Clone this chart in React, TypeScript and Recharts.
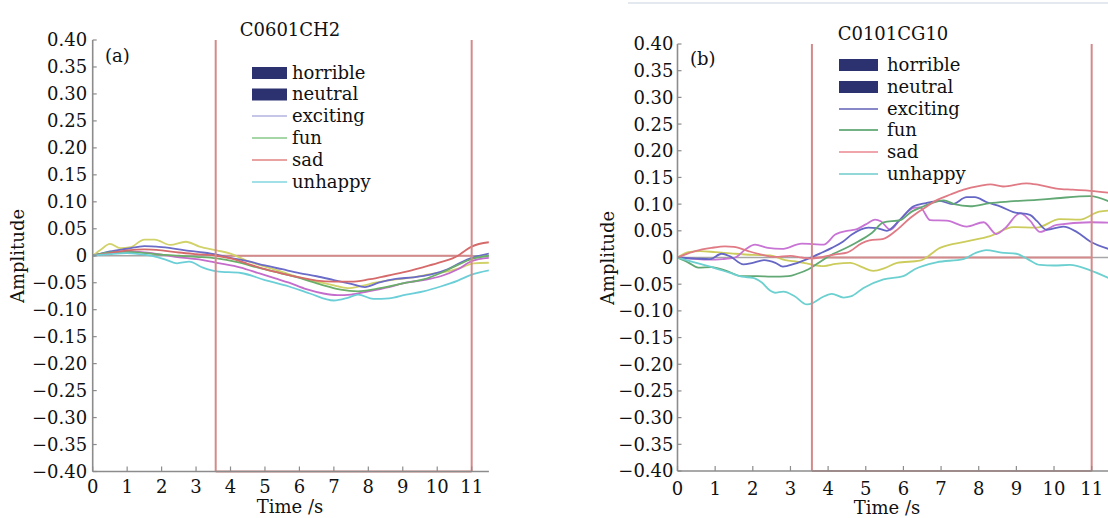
import React from 'react';
import { LineChart, Line, XAxis, YAxis, ReferenceLine } from 'recharts';

type Pt = [number, number];

// ---------- shared axis data ----------
const xTicks = [0, 1, 2, 3, 4, 5, 6, 7, 8, 9, 10, 11];
const yTicks = [0.4, 0.35, 0.3, 0.25, 0.2, 0.15, 0.1, 0.05, 0, -0.05, -0.1, -0.15, -0.2, -0.25, -0.3, -0.35, -0.4];
const markerTimes = [3.57, 11];
const legendNames = ['horrible', 'neutral', 'exciting', 'fun', 'sad', 'unhappy'];
const titles = ['C0601CH2', 'C0101CG10'];
const panelTags = ['(a)', '(b)'];

// ---------- panel (a) : C0601CH2 ----------
const horribleA: Pt[] = [[0, 0], [0.25, 0.012], [0.5, 0.022], [0.8, 0.014], [1.1, 0.016], [1.5, 0.03], [1.8, 0.03], [2.25, 0.02], [2.7, 0.026], [3.1, 0.017], [3.6, 0.01], [4.0, 0.004], [4.5, -0.01], [5, -0.02], [5.5, -0.03], [6, -0.04], [6.5, -0.048], [7, -0.055], [7.4, -0.06], [7.8, -0.056], [8.2, -0.05], [8.8, -0.044], [9.3, -0.04], [9.8, -0.034], [10.3, -0.029], [10.7, -0.022], [11.05, -0.014], [11.5, -0.013]];
const neutralA: Pt[] = [[0, 0], [0.5, 0.006], [1, 0.008], [1.5, 0.006], [2, 0.002], [2.4, -0.002], [2.8, -0.005], [3.2, -0.008], [3.6, -0.013], [4.3, -0.022], [4.8, -0.032], [5.3, -0.042], [5.7, -0.05], [6.2, -0.062], [6.7, -0.07], [7.1, -0.073], [7.5, -0.072], [8.0, -0.066], [8.6, -0.058], [9.1, -0.05], [9.6, -0.045], [10.1, -0.038], [10.6, -0.025], [11, -0.01], [11.5, -0.004]];
const excitingA: Pt[] = [[0, 0], [0.5, 0.008], [1, 0.013], [1.5, 0.018], [2, 0.016], [2.5, 0.012], [2.8, 0.009], [3.2, 0.006], [3.6, 0.002], [4, -0.004], [4.5, -0.01], [5, -0.018], [5.5, -0.025], [6, -0.032], [6.5, -0.038], [7, -0.045], [7.5, -0.052], [7.9, -0.058], [8.3, -0.05], [8.8, -0.043], [9.3, -0.04], [9.8, -0.035], [10.3, -0.025], [10.7, -0.012], [11, -0.004], [11.5, 0.004]];
const funA: Pt[] = [[0, 0], [0.5, 0.006], [0.9, 0.007], [1.5, 0.005], [2, 0.002], [2.5, 0.0], [3, -0.002], [3.6, -0.005], [4.2, -0.012], [4.8, -0.022], [5.3, -0.03], [5.7, -0.036], [6.2, -0.045], [6.7, -0.055], [7.2, -0.063], [7.7, -0.066], [8.2, -0.062], [8.6, -0.057], [9.1, -0.05], [9.6, -0.044], [10.1, -0.032], [10.6, -0.017], [11, -0.006], [11.5, 0.0]];
const sadA: Pt[] = [[0, 0], [0.5, 0.005], [1, 0.01], [1.5, 0.012], [2, 0.01], [2.5, 0.006], [3, 0.003], [3.6, 0], [4, -0.005], [4.5, -0.015], [5, -0.025], [5.5, -0.033], [6, -0.04], [6.5, -0.046], [7, -0.048], [7.5, -0.048], [8, -0.044], [8.4, -0.039], [9, -0.031], [9.6, -0.021], [10.1, -0.012], [10.6, 0.0], [10.8, 0.009], [11, 0.017], [11.5, 0.025]];
const unhappyA: Pt[] = [[0, 0], [0.5, 0.003], [1, 0.005], [1.5, 0.002], [1.9, -0.003], [2.15, -0.008], [2.45, -0.014], [2.8, -0.011], [3.2, -0.022], [3.6, -0.029], [4.3, -0.032], [5, -0.045], [5.7, -0.057], [6.3, -0.07], [7, -0.083], [7.4, -0.078], [7.7, -0.072], [8.15, -0.08], [8.6, -0.079], [9.1, -0.072], [9.6, -0.066], [10.1, -0.057], [10.6, -0.046], [11, -0.035], [11.5, -0.027]];

// ---------- panel (b) : C0101CG10 ----------
const horribleB: Pt[] = [[0, 0], [0.29, 0.01], [0.6, 0.012], [1.0, 0.01], [1.53, 0.007], [2.0, 0.005], [2.46, 0.004], [2.86, -0.005], [3.2, -0.008], [3.48, -0.012], [3.88, -0.016], [4.2, -0.012], [4.59, -0.01], [4.9, -0.018], [5.2, -0.025], [5.5, -0.02], [5.83, -0.01], [6.44, -0.006], [6.97, 0.018], [7.68, 0.03], [8.3, 0.04], [8.92, 0.057], [9.54, 0.056], [10.15, 0.072], [10.69, 0.071], [11.2, 0.086], [11.5, 0.088]];
const neutralB: Pt[] = [[0, 0], [0.4, -0.002], [0.82, -0.004], [1.2, -0.003], [1.53, 0], [1.8, 0.015], [2.06, 0.024], [2.4, 0.018], [2.77, 0.016], [3.3, 0.026], [3.6, 0.025], [3.88, 0.024], [4.19, 0.043], [4.5, 0.05], [4.72, 0.052], [5.0, 0.062], [5.25, 0.071], [5.4, 0.068], [5.65, 0.052], [5.9, 0.07], [6.27, 0.093], [6.44, 0.094], [6.71, 0.07], [7.15, 0.069], [7.68, 0.058], [8.13, 0.066], [8.47, 0.044], [8.7, 0.055], [9.1, 0.083], [9.35, 0.07], [9.63, 0.048], [10.07, 0.061], [10.97, 0.066], [11.5, 0.065]];
const excitingB: Pt[] = [[0, 0], [0.5, -0.002], [0.86, -0.003], [1.17, 0.007], [1.4, 0.002], [1.75, -0.013], [2.0, -0.01], [2.3, -0.005], [2.6, -0.01], [2.8, -0.017], [3.1, -0.012], [3.48, -0.002], [3.8, 0.008], [4.1, 0.018], [4.4, 0.03], [4.63, 0.043], [5.07, 0.056], [5.3, 0.055], [5.56, 0.05], [5.9, 0.07], [6.27, 0.096], [6.6, 0.102], [6.97, 0.106], [7.3, 0.1], [7.68, 0.113], [7.9, 0.113], [8.2, 0.104], [8.6, 0.095], [8.92, 0.085], [9.36, 0.08], [9.55, 0.068], [9.8, 0.052], [10.25, 0.058], [10.6, 0.048], [10.96, 0.03], [11.5, 0.015]];
const funB: Pt[] = [[0, 0], [0.3, -0.01], [0.55, -0.019], [0.9, -0.018], [1.3, -0.025], [1.71, -0.035], [2.1, -0.035], [2.5, -0.036], [2.95, -0.035], [3.2, -0.03], [3.48, -0.022], [3.75, -0.01], [4.01, 0.002], [4.54, 0.02], [4.8, 0.03], [5.16, 0.046], [5.47, 0.066], [5.92, 0.07], [6.2, 0.085], [6.54, 0.096], [7.07, 0.107], [7.35, 0.1], [7.77, 0.096], [8.3, 0.102], [8.83, 0.105], [9.54, 0.108], [10.07, 0.111], [10.96, 0.115], [11.5, 0.104]];
const sadB: Pt[] = [[0, 0], [0.47, 0.012], [0.9, 0.018], [1.26, 0.021], [1.5, 0.02], [1.88, 0.012], [2.2, 0.006], [2.59, 0.001], [3, 0.003], [3.3, 0.0], [3.57, -0.002], [4.19, 0.006], [4.5, 0.009], [4.9, 0.027], [5.1, 0.032], [5.47, 0.035], [5.8, 0.05], [6.18, 0.074], [6.5, 0.09], [6.9, 0.108], [7.25, 0.118], [7.6, 0.127], [8.03, 0.134], [8.31, 0.137], [8.65, 0.133], [9.27, 0.139], [9.6, 0.136], [10.07, 0.129], [10.5, 0.127], [10.97, 0.125], [11.5, 0.121]];
const unhappyB: Pt[] = [[0, 0], [0.4, -0.008], [0.82, -0.016], [1.4, -0.029], [1.71, -0.036], [2.0, -0.038], [2.24, -0.047], [2.46, -0.062], [2.59, -0.066], [2.81, -0.064], [3.1, -0.072], [3.44, -0.088], [3.6, -0.085], [3.83, -0.075], [4.1, -0.068], [4.41, -0.075], [4.6, -0.073], [4.94, -0.057], [5.47, -0.041], [6.0, -0.035], [6.3, -0.022], [6.88, -0.009], [7.59, -0.003], [7.9, 0.008], [8.2, 0.014], [8.6, 0.009], [9.0, 0.007], [9.3, -0.003], [9.63, -0.014], [10.0, -0.015], [10.42, -0.014], [10.96, -0.024], [11.5, -0.04]];

// ---------- styles ----------
const FONT = 'DejaVu Serif';
const AXIS = '#8c8c8c';
const RED = '#d48a8a';
const NAVY = '#2c3270';

const colorsA = { horrible: '#d2d26a', neutral: '#c46ccc', exciting: '#6b6bc8', fun: '#6aae6a', sad: '#d66a6a', unhappy: '#6ccfd8' };
const colorsB = { horrible: '#cccc5c', neutral: '#c874d4', exciting: '#6666c4', fun: '#62a874', sad: '#e07a84', unhappy: '#6cd0d0' };
const legendColorsA = { exciting: '#c6c6e8', fun: '#a6d6a6', sad: '#e8a2a2', unhappy: '#a2e0e8' };
const legendColorsB = { exciting: '#8888c8', fun: '#72b284', sad: '#f0a4ac', unhappy: '#92d8d8' };

const toRows = (pts: Pt[]) => pts.map(([t, v]) => ({ t, v }));

const seriesA = [
  { name: 'horrible', pts: horribleA },
  { name: 'neutral', pts: neutralA },
  { name: 'exciting', pts: excitingA },
  { name: 'fun', pts: funA },
  { name: 'sad', pts: sadA },
  { name: 'unhappy', pts: unhappyA },
];
const seriesB = [
  { name: 'horrible', pts: horribleB },
  { name: 'neutral', pts: neutralB },
  { name: 'exciting', pts: excitingB },
  { name: 'fun', pts: funB },
  { name: 'sad', pts: sadB },
  { name: 'unhappy', pts: unhappyB },
];

const fmtY = (v: number) => (Math.abs(v) < 1e-9 ? '0' : (v < 0 ? '\u2212' : '') + Math.abs(v).toFixed(2));

const YTick = (p: any) => {
  const { x, y, payload, gap } = p;
  return (
    <g>
      <line x1={x} x2={x + 4} y1={y} y2={y} stroke={AXIS} strokeWidth={1.2} />
      <text x={x - gap} y={y} dy="0.36em" textAnchor="end" fontFamily={FONT} fontSize={18} fill="#111">
        {fmtY(payload.value)}
      </text>
    </g>
  );
};

const XTick = (p: any) => {
  const { x, y, payload, base } = p;
  return (
    <g>
      <line x1={x} x2={x} y1={y} y2={y - 5} stroke={AXIS} strokeWidth={1.2} />
      <text x={x} y={y + base} textAnchor="middle" fontFamily={FONT} fontSize={18} fill="#111">
        {payload.value}
      </text>
    </g>
  );
};

type PanelProps = {
  left: number;
  width: number;
  plotTop: number;
  plotBottom: number;
  yAxisW: number;
  rightPad: number;
  series: { name: string; pts: Pt[] }[];
  colors: Record<string, string>;
  yGap: number;
  xBase: number;
};

const Panel = ({ left, width, plotTop, plotBottom, yAxisW, rightPad, series, colors, yGap, xBase }: PanelProps) => (
  <div style={{ position: 'absolute', left, top: 0 }}>
    <LineChart width={width} height={518} margin={{ top: plotTop, right: rightPad, bottom: 0, left: 0 }}>
      <XAxis
        type="number"
        dataKey="t"
        domain={[0, 11.5]}
        ticks={xTicks}
        interval={0}
        allowDataOverflow
        height={518 - plotBottom}
        tickSize={0}
        tickMargin={0}
        tickLine={false}
        axisLine={{ stroke: AXIS, strokeWidth: 1.6 }}
        tick={(p: any) => <XTick {...p} base={xBase} />}
      />
      <YAxis
        type="number"
        domain={[-0.4, 0.4]}
        ticks={yTicks}
        interval={0}
        allowDataOverflow
        width={yAxisW}
        tickSize={0}
        tickMargin={0}
        tickLine={false}
        axisLine={{ stroke: AXIS, strokeWidth: 1.6 }}
        tick={(p: any) => <YTick {...p} gap={yGap} />}
      />
      <ReferenceLine y={0} stroke="#a6a6a6" strokeWidth={1.6} />
      <ReferenceLine segment={[{ x: markerTimes[0], y: 0 }, { x: markerTimes[1], y: 0 }]} stroke={RED} strokeWidth={2} />
      <ReferenceLine segment={[{ x: markerTimes[0], y: -0.4 }, { x: markerTimes[1], y: -0.4 }]} stroke={RED} strokeWidth={2} />
      {series.map((s) => (
        <Line
          key={s.name}
          data={toRows(s.pts)}
          dataKey="v"
          name={s.name}
          type="monotone"
          stroke={colors[s.name]}
          strokeWidth={1.8}
          dot={false}
          activeDot={false}
          isAnimationActive={false}
        />
      ))}
      <ReferenceLine x={markerTimes[0]} stroke={RED} strokeWidth={2} />
      <ReferenceLine x={markerTimes[1]} stroke={RED} strokeWidth={2} />
    </LineChart>
  </div>
);

const Legend = ({ x, rows, swW, textX, lineColors }: { x: number; rows: number[]; swW: number; textX: number; lineColors: Record<string, string> }) => (
  <g>
    {legendNames.map((n, i) => {
      const cy = rows[i];
      const isBox = n === 'horrible' || n === 'neutral';
      return (
        <g key={n}>
          {isBox ? (
            <rect x={x} y={cy - 6} width={swW} height={12} fill={NAVY} />
          ) : (
            <line x1={x} x2={x + swW} y1={cy} y2={cy} stroke={lineColors[n]} strokeWidth={2} />
          )}
          <text x={textX} y={cy} dy="0.33em" fontFamily={FONT} fontSize={18} fill="#111">
            {n}
          </text>
        </g>
      );
    })}
  </g>
);

export default function App() {
  return (
    <div style={{ position: 'absolute', left: 0, top: 0, width: 1108, height: 518, overflow: 'hidden', background: '#fff' }}>
      <div style={{ position: 'absolute', left: 628, top: 2, width: 480, height: 2, background: '#e4e9ef' }} />
      <Panel
        left={0}
        width={500}
        plotTop={40}
        plotBottom={471.5}
        yAxisW={92.7}
        rightPad={500 - 488.9}
        series={seriesA}
        colors={colorsA}
        yGap={5.5}
        xBase={21}
      />
      <Panel
        left={600}
        width={520}
        plotTop={44}
        plotBottom={471}
        yAxisW={77.5}
        rightPad={520 - 510.5}
        series={seriesB}
        colors={colorsB}
        yGap={4}
        xBase={24}
      />
      <svg width={1108} height={518} style={{ position: 'absolute', left: 0, top: 0, pointerEvents: 'none' }}>
        <text x={290} y={36} textAnchor="middle" fontFamily={FONT} fontSize={18} fill="#111">{titles[0]}</text>
        <text x={893} y={40} textAnchor="middle" fontFamily={FONT} fontSize={18} fill="#111">{titles[1]}</text>
        <text x={105} y={62} fontFamily={FONT} fontSize={18} fill="#111">{panelTags[0]}</text>
        <text x={690} y={65} fontFamily={FONT} fontSize={18} fill="#111">{panelTags[1]}</text>
        <text x={0} y={0} transform="translate(24,256) rotate(-90)" textAnchor="middle" fontFamily={FONT} fontSize={18} fill="#111">Amplitude</text>
        <text x={0} y={0} transform="translate(614,258) rotate(-90)" textAnchor="middle" fontFamily={FONT} fontSize={18} fill="#111">Amplitude</text>
        <text x={290} y={513} textAnchor="middle" fontFamily={FONT} fontSize={18} fill="#111">Time /s</text>
        <text x={887} y={514} textAnchor="middle" fontFamily={FONT} fontSize={18} fill="#111">Time /s</text>
        <Legend x={252} rows={[73, 94.5, 116, 138, 160, 182]} swW={35} textX={292} lineColors={legendColorsA} />
        <Legend x={839} rows={[65, 87, 109, 130, 152, 174]} swW={39} textX={887} lineColors={legendColorsB} />
      </svg>
    </div>
  );
}
